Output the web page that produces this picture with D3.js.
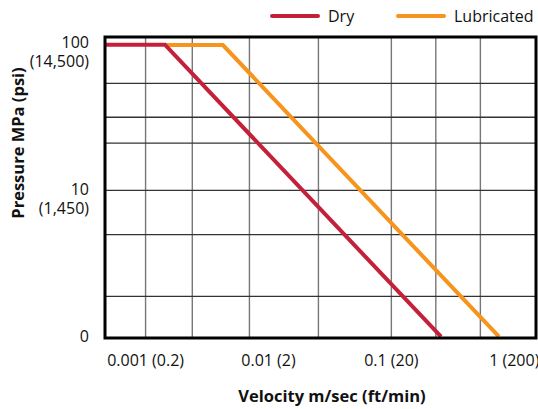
<!DOCTYPE html>
<html>
<head>
<meta charset="utf-8">
<script src="https://cdn.jsdelivr.net/npm/d3@7"></script>
<style>
  body { margin: 0; background: #fff; }
  text { font-family: "Open Sans", sans-serif; }
</style>
</head>
<body>
<div id="chart"></div>
<script>
//Data
const seriesNames = ["Dry", "Lubricated"];
const seriesColors = ["#c4203a", "#f7941d"];
// velocity in m/sec, pressure in MPa
const dryVelocity = [0.000472, 0.00145, 0.256];
const dryPressure = [97.5, 97.5, 1];
const lubVelocity = [0.00145, 0.0043, 0.758];
const lubPressure = [97, 97, 1];

//Tick labels and grid values
const xTickValues = [0.001, 0.01, 0.1, 1];
const xTickLabels = ["0.001 (0.2)", "0.01 (2)", "0.1 (20)", "1 (200)"];
const xGridValues = [0.001, 0.0024, 0.007, 0.0255, 0.1, 0.23, 0.53];
const yTickValues = [100, 10, 1];
const yTickLabels = ["100", "10", "0"];
const yTickSubLabels = ["(14,500)", "(1,450)", ""];
const yGridValues = [53.5, 31.5, 21, 10, 5, 1.9];

//Dimensions
const width = 538;
const height = 409;
const plotLeft = 105, plotRight = 536, plotTop = 37, plotBottom = 338;

const svg = d3.select("#chart").append("svg").attr("width", width).attr("height", height);

//Log scales for both axes
const xscale = d3.scaleLog().domain([0.000472, 1.517]).range([plotLeft, plotRight]);
const yscale = d3.scaleLog().domain([0.98, 110]).range([plotBottom, plotTop]);

//Vertical grid lines
svg.append("g")
    .attr("transform", `translate(0, ${plotBottom})`)
    .call(d3.axisBottom(xscale).tickValues(xGridValues).tickSize(-(plotBottom - plotTop)).tickFormat(""))
    .call(g => g.select(".domain").remove())
    .call(g => g.selectAll("line").attr("stroke", "#777").attr("stroke-width", 1.4));

//Horizontal grid lines
svg.append("g")
    .attr("transform", `translate(${plotLeft}, 0)`)
    .call(d3.axisLeft(yscale).tickValues(yGridValues).tickSize(-(plotRight - plotLeft)).tickFormat(""))
    .call(g => g.select(".domain").remove())
    .call(g => g.selectAll("line").attr("stroke", "#333").attr("stroke-width", 1.3));

//Lines
const line = d3.line().x(d => xscale(d[0])).y(d => yscale(d[1]));
const series = [
    d3.zip(dryVelocity, dryPressure),
    d3.zip(lubVelocity, lubPressure)
];
// draw lubricated first so dry sits on top at the shared corner
[1, 0].forEach(i => {
    svg.append("path")
        .datum(series[i])
        .attr("d", line)
        .attr("fill", "none")
        .attr("stroke", seriesColors[i])
        .attr("stroke-width", 4);
});

//Frame
svg.append("rect")
    .attr("x", plotLeft).attr("y", plotTop)
    .attr("width", plotRight - plotLeft).attr("height", plotBottom - plotTop)
    .attr("fill", "none").attr("stroke", "#000").attr("stroke-width", 3);

//X axis labels
svg.append("g")
    .attr("transform", `translate(0, ${plotBottom})`)
    .call(d3.axisBottom(xscale).tickValues(xTickValues).tickSize(0).tickPadding(17)
        .tickFormat((d, i) => xTickLabels[i]))
    .call(g => g.select(".domain").remove())
    .call(g => g.selectAll("text").attr("fill", "#111").style("font-size", "16px")
        .style("font-family", "'Open Sans', sans-serif"));

//Y axis labels (two lines each)
const yLabels = svg.append("g");
yTickValues.forEach((v, i) => {
    const t = yLabels.append("text")
        .attr("x", 89).attr("y", yscale(v) + 5)
        .attr("text-anchor", "end")
        .attr("fill", "#111")
        .style("font-size", "16px");
    t.append("tspan").attr("x", 89).text(yTickLabels[i]);
    if (yTickSubLabels[i]) t.append("tspan").attr("x", 89).attr("dy", 19).text(yTickSubLabels[i]);
});

//Axis titles
svg.append("text")
    .attr("x", 332).attr("y", 402)
    .attr("text-anchor", "middle")
    .style("font-size", "16.5px").style("font-weight", "bold")
    .attr("fill", "#111")
    .text("Velocity m/sec (ft/min)");

svg.append("text")
    .attr("transform", "translate(24, 143) rotate(-90)")
    .attr("text-anchor", "middle")
    .style("font-size", "16.5px").style("font-weight", "bold")
    .attr("fill", "#111")
    .text("Pressure MPa (psi)");

//Legend
const legendX = [272, 398];
seriesNames.forEach((name, i) => {
    const g = svg.append("g").attr("transform", `translate(${legendX[i]}, 16)`);
    g.append("line").attr("x1", 0).attr("x2", 46).attr("y1", 0).attr("y2", 0)
        .attr("stroke", seriesColors[i]).attr("stroke-width", 4).attr("stroke-linecap", "round");
    g.append("text").attr("x", 56).attr("y", 5.5).attr("fill", "#111")
        .style("font-size", "16px").text(name);
});
</script>
</body>
</html>
